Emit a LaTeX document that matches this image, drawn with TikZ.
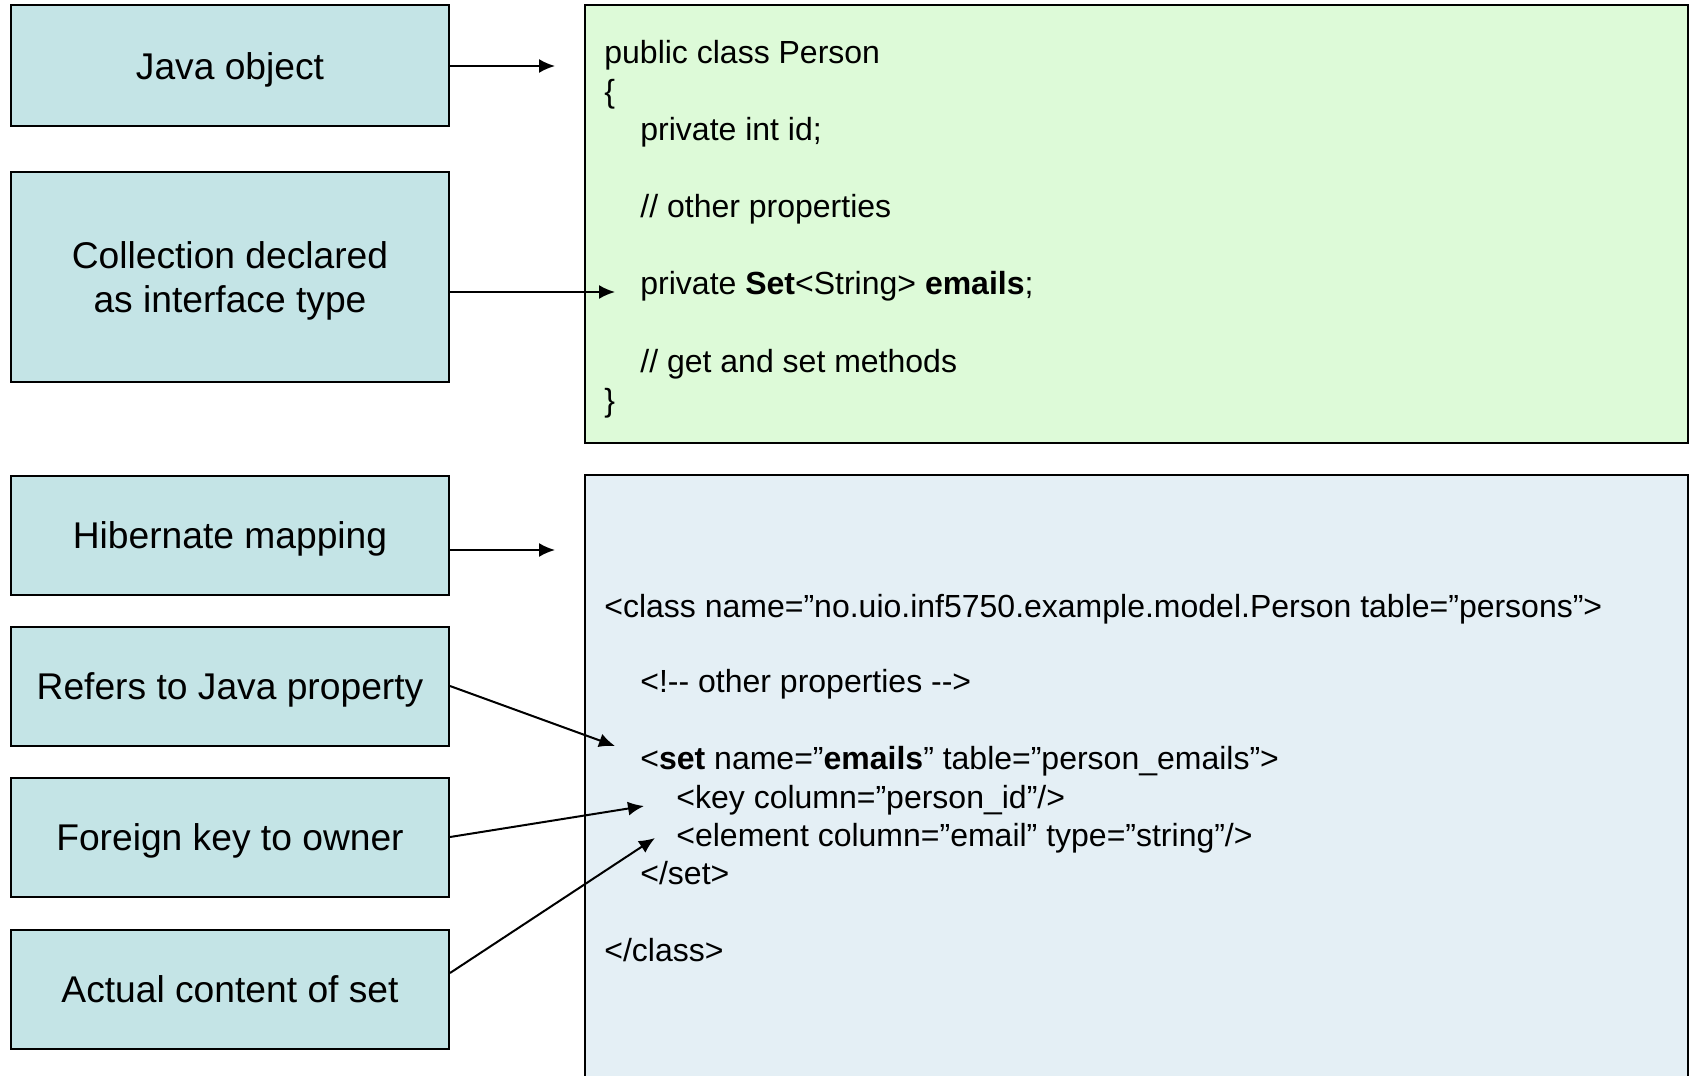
\documentclass[tikz,border=0pt]{standalone}
\usepackage{fontspec}
\setmainfont{Liberation Sans}
\usetikzlibrary{arrows.meta}
\definecolor{tagfill}{RGB}{196,228,230}
\definecolor{javafill}{RGB}{221,250,216}
\definecolor{xmlfill}{RGB}{228,239,245}
\tikzset{>={Latex[length=8pt,width=7pt]}, x=0.5pt, y=-0.5pt, font=\fontsize{16}{19}\selectfont}
\tikzstyle{tag} = [draw, fill=tagfill, rectangle, line width=1pt, minimum width=219pt, minimum height=59.5pt, text centered, align=center, text depth=0pt, font=\fontsize{18.6}{22}\selectfont]
\tikzstyle{codebox} = [draw, rectangle, line width=1pt, inner sep=0pt]
\tikzstyle{code} = [anchor=base west, inner sep=0pt]
\tikzstyle{pointer} = [->, line width=1pt]

\begin{document}
\begin{tikzpicture}
    \useasboundingbox (0,0) rectangle (1689,1075);
    % code boxes
    \node [codebox, fill=javafill, minimum width=551.5pt, minimum height=219pt] (javaclass) at (1136.5,224) {};
    \node [codebox, fill=xmlfill, minimum width=551.5pt, minimum height=305pt] (xmlmap) at (1136.5,780) {};

    % left tags
    \node [tag, minimum height=60.5pt] (javaobj) at (230,66) {Java object};
    \node [tag, minimum height=105pt] (collection) at (230,277) {Collection declared\\as interface type};
    \node [tag] (mapping) at (230,535) {Hibernate mapping};
    \node [tag] (property) at (230,686) {Refers to Java property};
    \node [tag] (fkey) at (230,837) {Foreign key to owner};
    \node [tag] (content) at (230,989) {Actual content of set};

    % Java class
    \node [code] (cls) at (604,64) {public class Person};
    \node [code] (open) at (604,103) {\{};
    \node [code] (idprop) at (640,141) {private int id;};
    \node [code] (otherj) at (640,218) {// other properties};
    \node [code] (emails) at (640,294) {private \textbf{Set}<String> \textbf{emails};};
    \node [code] (getset) at (640,372) {// get and set methods};
    \node [code] (close) at (604,411) {\}};

    % mapping file
    \node [code] (classtag) at (604,617) {<class name=”no.uio.inf5750.example.model.Person table=”persons”>};
    \node [code] (otherx) at (640,692) {<!-{}- other properties -{}->};
    \node [code] (settag) at (640,769) {<\textbf{set} name=”\textbf{emails}” table=”person\_emails”>};
    \node [code] (keytag) at (676,808) {<key column=”person\_id”/>};
    \node [code] (elemtag) at (676,846) {<element column=”email” type=”string”/>};
    \node [code] (endset) at (640,884) {</set>};
    \node [code] (endclass) at (604,961) {</class>};

    % arrow ends
    \coordinate (tojava) at (555,66);
    \coordinate (toset) at (615,292);
    \coordinate (tomap) at (555,550);
    \coordinate (toname) at (615,746);
    \coordinate (tokey) at (644,806);
    \coordinate (toelem) at (655,838);

    \draw [pointer] (javaobj.east) -- (tojava);
    \draw [pointer] ([yshift=-7.5pt]collection.east) -- (toset);
    \draw [pointer] ([yshift=-7.5pt]mapping.east) -- (tomap);
    \draw [pointer] (property.east) -- (toname);
    \draw [pointer] (fkey.east) -- (tokey);
    \draw [pointer] ([yshift=8pt]content.east) -- (toelem);
\end{tikzpicture}
\end{document}
